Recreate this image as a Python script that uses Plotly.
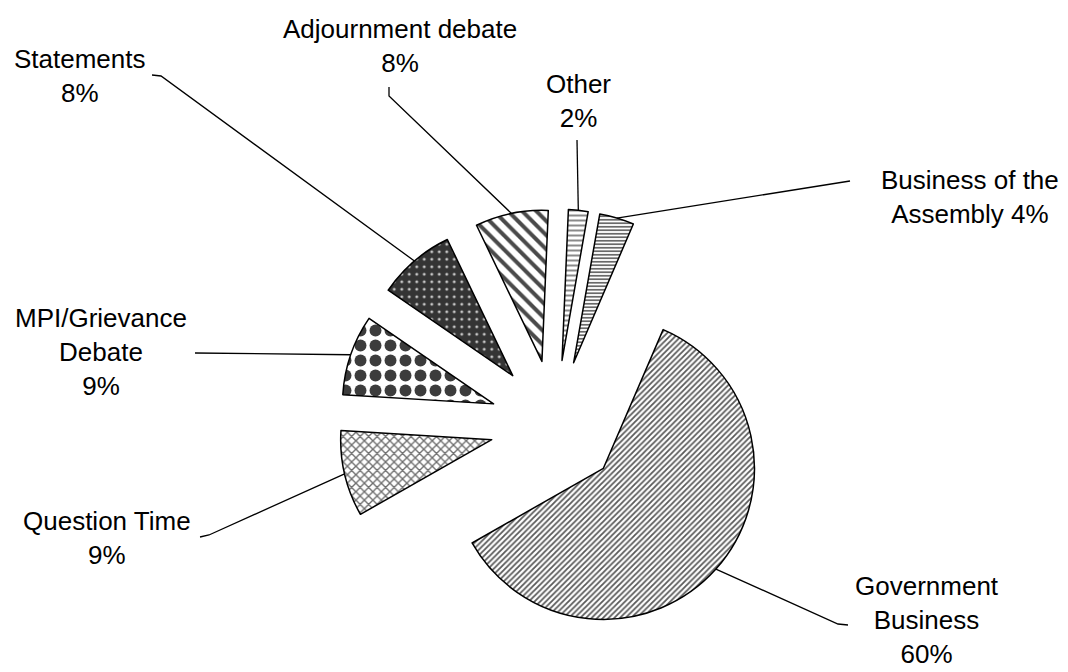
import math
import plotly.graph_objects as go

# ---------------- data ----------------
categories = ["Government Business", "Question Time", "MPI/Grievance Debate",
              "Statements", "Adjournment debate", "Other", "Business of the Assembly"]
values = [60.3, 9.2, 8.6, 8.3, 7.8, 2.1, 3.7]
label_text = ["Government<br>Business", "Question Time", "MPI/Grievance<br>Debate",
              "Statements", "Adjournment debate", "Other", "Business of the<br>Assembly"]
pct_sep = ["<br>", "<br>", "<br>", "<br>", "<br>", "<br>", " "]

# ---------------- layout / style ----------------
W, H = 1068, 672
OFF = 8                             # page body margin in the browser
PIE_CX, PIE_CY = 555, 425           # pie centre in window pixels
PIE_HALF = 216                      # half of domain size in pixels
PULL = 0.43
ROTATION = 23.3
FONT = dict(family="Arial, Liberation Sans, sans-serif", size=26, color="black")

pat_shape = ["/", "x", ".", ".", "\\", "-", "-"]
pat_fg = ["#5a5a5a", "#6e6e6e", "#3c3c3c", "#c8c8c8", "#4a4a4a", "#8a8a8a", "#6a6a6a"]
pat_bg = ["white", "white", "white", "#343434", "white", "white", "white"]
pat_size = [4, 6, 15, 7.5, 10, 5, 3.5]
pat_solid = [0.45, 0.4, 0.5, 0.12, 0.4, 0.4, 0.5]

label_pos = [(927, 620), (107, 538), (101, 352), (80, 76), (400, 46), (578, 101), (970, 197)]
leader_pts = [[(848, 625), (838, 624)], [(200, 537), (209, 535)], [(195, 353)],
              [(152, 75), (161, 76)], [(389, 87), (389, 96)], [(577, 140)], [(850, 181)]]


def px(x):
    return (x - OFF) / W


def py(y):
    return 1 - (y - OFF) / H


domain_x = [px(PIE_CX - PIE_HALF), px(PIE_CX + PIE_HALF)]
domain_y = [py(PIE_CY + PIE_HALF), py(PIE_CY - PIE_HALF)]
radius = PIE_HALF / (1 + PULL)

fig = go.Figure(go.Pie(
    labels=categories, values=values, sort=False, direction="clockwise",
    rotation=ROTATION, pull=[PULL] * len(values), textinfo="none",
    hoverinfo="label+percent", showlegend=False,
    domain=dict(x=domain_x, y=domain_y),
    marker=dict(
        colors=pat_bg,
        line=dict(color="black", width=1.5),
        pattern=dict(shape=pat_shape, fgcolor=pat_fg, bgcolor=pat_bg,
                     size=pat_size, solidity=pat_solid, fillmode="replace"),
    ),
))

total = sum(values)
annotations = []
shapes = []
cum = 0
for i, v in enumerate(values):
    a0 = ROTATION + 360 * cum / total
    a1 = ROTATION + 360 * (cum + v) / total
    cum += v
    mid = math.radians((a0 + a1) / 2)
    d = radius * (1 + PULL)
    ax = PIE_CX + d * math.sin(mid)
    ay = PIE_CY - d * math.cos(mid)
    pts = leader_pts[i] + [(ax, ay)]
    path = "M " + " L ".join(f"{px(x):.5f},{py(y):.5f}" for x, y in pts)
    shapes.append(dict(type="path", path=path, xref="paper", yref="paper",
                       line=dict(color="black", width=1.3)))
    pct = f"{100 * v / total:.0f}%"
    lx, ly = label_pos[i]
    annotations.append(dict(text=label_text[i] + pct_sep[i] + pct, x=px(lx), y=py(ly),
                            xref="paper", yref="paper", xanchor="center", yanchor="middle",
                            showarrow=False, font=FONT, align="center"))

fig.update_layout(
    width=W, height=H, margin=dict(l=0, r=0, t=0, b=0),
    paper_bgcolor="white", plot_bgcolor="white",
    annotations=annotations, shapes=shapes,
)

fig.write_html("out.html")
